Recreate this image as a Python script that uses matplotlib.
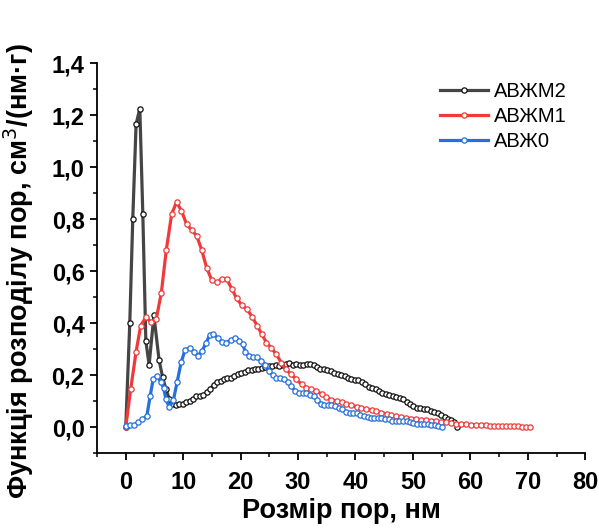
import matplotlib
matplotlib.use("Agg")
import matplotlib.pyplot as plt
from matplotlib.ticker import MultipleLocator, FuncFormatter

# АВЖМ2
x_m2 = [0, 0.7, 1.22, 1.8, 2.45, 2.97, 3.5, 4.07, 4.9, 5.8, 6.4, 7.0, 7.6,
        8.1, 8.7, 9.3, 9.9, 10.5, 11.1, 11.7, 12.3, 12.9, 13.5, 14.1, 14.7,
        15.3, 15.9, 16.5, 17.1, 17.7, 18.3, 18.9, 19.5, 20.1, 20.7, 21.3,
        21.9, 22.5, 23.1, 23.7, 24.3, 24.9, 25.5, 26.1, 26.7, 27.3, 27.9,
        28.5, 29.1, 29.7, 30.3, 30.9, 31.5, 32.1, 32.7, 33.3, 33.9, 34.5,
        35.1, 35.7, 36.3, 36.9, 37.5, 38.1, 38.7, 39.3, 39.9, 40.5, 41.1,
        41.7, 42.3, 42.9, 43.5, 44.1, 44.7, 45.3, 45.9, 46.5, 47.1, 47.7,
        48.3, 48.9, 49.5, 50.1, 50.7, 51.3, 51.9, 52.5, 53.1, 53.7, 54.3,
        54.9, 55.5, 56.1, 56.7, 57.2, 57.7]
y_m2 = [0.0, 0.40, 0.80, 1.165, 1.225, 0.82, 0.33, 0.24, 0.43, 0.258, 0.194,
        0.146, 0.107, 0.09, 0.084, 0.088, 0.09, 0.095, 0.10, 0.108, 0.118,
        0.12, 0.123, 0.135, 0.148, 0.162, 0.174, 0.178, 0.184, 0.19, 0.188,
        0.197, 0.205, 0.207, 0.212, 0.218, 0.221, 0.223, 0.225, 0.226, 0.232,
        0.236, 0.236, 0.238, 0.237, 0.24, 0.242, 0.245, 0.24, 0.241, 0.238,
        0.24, 0.243, 0.244, 0.238, 0.232, 0.225, 0.222, 0.218, 0.214, 0.21,
        0.203, 0.199, 0.196, 0.19, 0.186, 0.183, 0.18, 0.174, 0.165, 0.155,
        0.15, 0.146, 0.14, 0.133, 0.128, 0.122, 0.118, 0.117, 0.113, 0.107,
        0.097, 0.088, 0.082, 0.074, 0.074, 0.071, 0.07, 0.064, 0.059, 0.056,
        0.048, 0.04, 0.033, 0.026, 0.018, 0.002]

# АВЖМ1
x_m1 = [0, 0.87, 1.8, 2.6, 3.5, 4.37, 5.3, 6.2, 7.05, 8.0, 8.85, 9.7, 10.6,
        11.5, 12.35, 13.2, 14.1, 15.0, 15.85, 16.7, 17.6, 18.45, 19.3, 20.2,
        21.1, 22.0, 22.9, 23.7, 24.5, 25.3, 26.2, 27.1, 27.9, 28.8, 29.7,
        30.6, 31.4, 32.3, 33.2, 34.1, 34.9, 35.8, 36.7, 37.6, 38.4, 39.3,
        40.2, 41.0, 41.9, 42.8, 43.6, 44.5, 45.4, 46.2, 47.1, 48.0, 48.8,
        49.7, 50.6, 51.4, 52.3, 53.2, 54.0, 54.9, 55.8, 56.6, 57.5, 58.4,
        59.2, 60.1, 61.0, 61.8, 62.7, 63.4, 64.1, 64.8, 65.5, 66.2, 66.9,
        67.6, 68.3, 69.0, 69.7, 70.3]
y_m1 = [0.0, 0.148, 0.29, 0.39, 0.423, 0.404, 0.415, 0.517, 0.68, 0.82,
        0.865, 0.832, 0.78, 0.757, 0.736, 0.683, 0.612, 0.564, 0.557, 0.57,
        0.568, 0.533, 0.495, 0.469, 0.453, 0.425, 0.389, 0.357, 0.325, 0.306,
        0.28, 0.248, 0.222, 0.203, 0.184, 0.165, 0.152, 0.146, 0.139, 0.127,
        0.114, 0.105, 0.101, 0.095, 0.088, 0.084, 0.079, 0.075, 0.069, 0.065,
        0.061, 0.056, 0.051, 0.047, 0.043, 0.039, 0.036, 0.032, 0.03, 0.028,
        0.026, 0.024, 0.022, 0.02, 0.018, 0.016, 0.014, 0.012, 0.011, 0.009,
        0.008, 0.007, 0.007, 0.006, 0.005, 0.005, 0.004, 0.004, 0.003, 0.003,
        0.003, 0.002, 0.002, 0.002]

# АВЖ0
x_0 = [0, 0.76, 1.46, 2.15, 2.9, 3.67, 4.25, 4.8, 5.45, 6.1, 6.6, 7.0, 7.57,
       8.3, 8.95, 9.65, 10.35, 11.2, 11.9, 12.55, 13.3, 14.0, 14.6, 15.25,
       16.0, 16.7, 17.5, 18.3, 19.1, 19.8, 20.4, 20.8, 21.5, 22.1, 22.8,
       23.6, 24.3, 24.9, 25.6, 26.2, 26.9, 27.5, 28.2, 28.8, 29.5, 30.1,
       30.8, 31.4, 32.1, 32.7, 33.3, 34.0, 34.6, 35.2, 35.8, 36.5, 37.1,
       37.7, 38.4, 39.0, 39.6, 40.2, 40.8, 41.5, 42.1, 42.7, 43.3, 43.9,
       44.5, 45.2, 45.8, 46.4, 47.0, 47.6, 48.3, 48.9, 49.5, 50.1, 50.7,
       51.4, 52.0, 52.6, 53.2, 53.8, 54.4, 55.1]
y_0 = [0.003, 0.008, 0.008, 0.018, 0.031, 0.043, 0.12, 0.187, 0.197, 0.175,
       0.15, 0.107, 0.077, 0.104, 0.174, 0.25, 0.298, 0.304, 0.29, 0.275,
       0.293, 0.325, 0.353, 0.357, 0.344, 0.327, 0.325, 0.335, 0.344, 0.333,
       0.318, 0.29, 0.274, 0.269, 0.268, 0.254, 0.24, 0.216, 0.199, 0.19,
       0.188, 0.185, 0.172, 0.158, 0.14, 0.131, 0.13, 0.13, 0.125, 0.118,
       0.105, 0.09, 0.085, 0.084, 0.084, 0.08, 0.075, 0.068, 0.057, 0.054,
       0.054, 0.054, 0.046, 0.041, 0.039, 0.037, 0.037, 0.037, 0.037, 0.033,
       0.03, 0.025, 0.024, 0.024, 0.024, 0.022, 0.018, 0.015, 0.012, 0.012,
       0.011, 0.011, 0.009, 0.008, 0.005, 0.001]

plt.rcParams['font.family'] = ['Liberation Sans', 'DejaVu Sans']

fig = plt.figure(figsize=(5.99, 5.30), dpi=100)
ax = fig.add_axes([0.162, 0.145, 0.815, 0.736])

style = dict(linewidth=2.3, marker='o', markersize=3.8,
             markerfacecolor='white', markeredgewidth=0.9)
ax.plot(x_m2, y_m2, color='#454545', markeredgecolor='#111111',
        label='АВЖМ2', **style)
ax.plot(x_m1, y_m1, color='#f03a3a', markeredgecolor='#f03a3a',
        label='АВЖМ1', **style)
ax.plot(x_0, y_0, color='#2470dc', markeredgecolor='#2470dc',
        label='АВЖ0', **style)

ax.set_xlim(-5, 80)
ax.set_ylim(-0.1, 1.4)
ax.xaxis.set_major_locator(MultipleLocator(10))
ax.xaxis.set_minor_locator(MultipleLocator(5))
ax.yaxis.set_major_locator(MultipleLocator(0.2))
ax.yaxis.set_minor_locator(MultipleLocator(0.1))
ax.yaxis.set_major_formatter(FuncFormatter(lambda v, p: f"{v:.1f}".replace('.', ',')))

for s in ['top', 'right']:
    ax.spines[s].set_visible(False)
for s in ['left', 'bottom']:
    ax.spines[s].set_linewidth(1.3)

ax.tick_params(which='major', direction='out', length=5, width=1.3,
               labelsize=17, pad=4)
ax.tick_params(which='minor', direction='out', length=3, width=1.1)
ax.tick_params(axis='x', which='major', pad=8)
for lab in ax.get_xticklabels() + ax.get_yticklabels():
    lab.set_fontweight('bold')

ax.set_xlabel('Розмір пор, нм', fontsize=19.5, fontweight='bold')
ax.set_ylabel('Функція розподілу пор, см$^3$/(нм·г)', fontsize=19.5,
              fontweight='bold')
ax.xaxis.set_label_coords(0.5, -0.115)
ax.yaxis.set_label_coords(-0.125, 0.467)

ax.legend(loc='upper left', bbox_to_anchor=(440 / 599, 1 - 82 / 530),
          bbox_transform=fig.transFigure, frameon=False, fontsize=14.5,
          handlelength=2.4, handletextpad=0.3, labelspacing=0.3,
          borderpad=0, borderaxespad=0)

fig.savefig('out.png', dpi=100)
